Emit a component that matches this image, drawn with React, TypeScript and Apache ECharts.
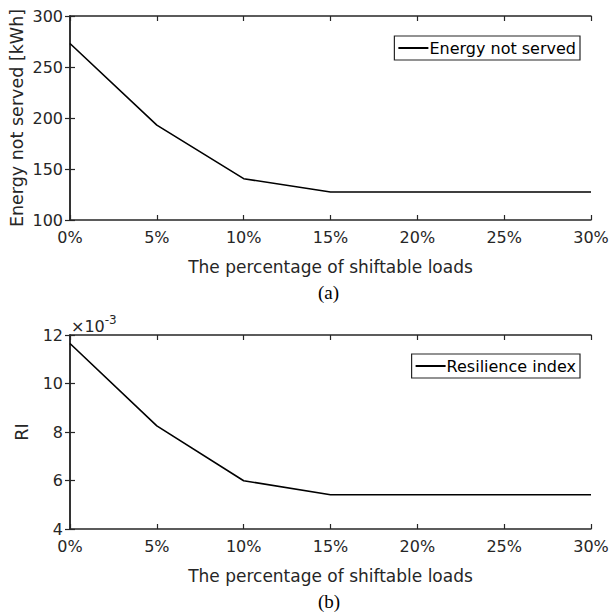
import React, { useEffect, useRef } from "react";
import * as echarts from "echarts";

const shiftPct = [0, 5, 10, 15, 20, 25, 30];
const energyNotServed = [273, 193, 140.5, 127.5, 127.5, 127.5, 127.5];
const resilienceIndex = [11.65, 8.25, 5.99, 5.41, 5.41, 5.41, 5.41];
const xTicks = { min: 0, max: 30, interval: 5 };
const yTopTicks = { min: 100, max: 300, interval: 50 };
const yBotTicks = { min: 4, max: 12, interval: 2 };

const FONT = "'DejaVu Sans', 'Liberation Sans', Arial, sans-serif";
const SERIF = "'Liberation Serif', 'Times New Roman', serif";
const AX = "#262626";

export default function App() {
  const ref = useRef<HTMLDivElement>(null);
  useEffect(() => {
    if (!ref.current) return;
    const chart = echarts.init(ref.current, null, { renderer: "svg" });
    const grids = [
      { left: 70, right: 21, top: 16, height: 204, outerBoundsMode: "none", containLabel: false },
      { left: 70, right: 21, top: 335, height: 194, outerBoundsMode: "none", containLabel: false },
    ];
    const axisLine = { show: true, lineStyle: { color: AX, width: 1.5 } };
    const tick = { show: true, inside: true, length: 5, lineStyle: { color: AX, width: 1.2 } };
    const lbl = { color: AX, fontSize: 16, fontFamily: FONT };
    const xAxes: any[] = [];
    const yAxes: any[] = [];
    [0, 1].forEach((g) => {
      xAxes.push({
        type: "value", gridIndex: g, position: "bottom", ...xTicks,
        name: "The percentage of shiftable loads", nameLocation: "middle", nameGap: 38,
        nameMoveOverlap: false,
        nameTextStyle: { color: AX, fontSize: 17, fontFamily: FONT },
        axisLine, axisTick: tick, splitLine: { show: false },
        axisLabel: { ...lbl, margin: 9, formatter: (v: number) => v + "%" },
      });
      xAxes.push({
        type: "value", gridIndex: g, position: "top", ...xTicks,
        axisLine, axisTick: tick, splitLine: { show: false }, axisLabel: { show: false },
      });
      const yt = g === 0 ? yTopTicks : yBotTicks;
      yAxes.push({
        type: "value", gridIndex: g, position: "left", ...yt,
        name: g === 0 ? "Energy not served [kWh]" : "RI",
        nameLocation: "middle", nameGap: g === 0 ? 44 : 39,
        nameMoveOverlap: false,
        nameTextStyle: { color: AX, fontSize: 17.5, fontFamily: FONT },
        axisLine, axisTick: tick, splitLine: { show: false },
        axisLabel: { ...lbl, margin: 7 },
      });
      yAxes.push({
        type: "value", gridIndex: g, position: "right", ...yt,
        axisLine, axisTick: tick, splitLine: { show: false }, axisLabel: { show: false },
      });
    });
    const legendBase = {
      orient: "vertical",
      right: 32,
      icon: "rect",
      itemWidth: 30,
      itemHeight: 2,
      itemGap: 0,
      padding: [4, 4, 4, 4],
      borderColor: AX,
      borderWidth: 1.2,
      backgroundColor: "#fff",
      textStyle: { color: "#000", fontSize: 16, fontFamily: FONT, padding: [0, 0, 0, -4] },
    };
    chart.setOption({
      animation: false,
      backgroundColor: "#fff",
      grid: grids,
      xAxis: xAxes,
      yAxis: yAxes,
      legend: [
        { ...legendBase, top: 36, data: ["Energy not served"] },
        { ...legendBase, top: 354, data: ["Resilience index"] },
      ],
      series: [
        {
          name: "Energy not served", type: "line", xAxisIndex: 0, yAxisIndex: 0,
          data: shiftPct.map((x, i) => [x, energyNotServed[i]]),
          symbol: "none", lineStyle: { color: "#000", width: 1.6 }, itemStyle: { color: "#000" },
        },
        {
          name: "Resilience index", type: "line", xAxisIndex: 2, yAxisIndex: 2,
          data: shiftPct.map((x, i) => [x, resilienceIndex[i]]),
          symbol: "none", lineStyle: { color: "#000", width: 1.6 }, itemStyle: { color: "#000" },
        },
      ],
      graphic: [
        {
          type: "text", left: 318, top: 283,
          style: { text: "(a)", fontSize: 19, fontFamily: SERIF, fill: "#000" },
        },
        {
          type: "text", left: 318, top: 592,
          style: { text: "(b)", fontSize: 19, fontFamily: SERIF, fill: "#000" },
        },
        {
          type: "text", left: 71, top: 314,
          style: {
            text: "{a|×10}{s|-3}",
            rich: {
              a: { fontSize: 16, fontFamily: FONT, fill: AX, verticalAlign: "bottom" },
              s: { fontSize: 12, fontFamily: FONT, fill: AX, verticalAlign: "top", padding: [0, 0, 8, 0] },
            },
          },
        },
      ],
    });
    return () => chart.dispose();
  }, []);
  return (
    <div
      ref={ref}
      style={{ position: "fixed", left: 0, top: 0, width: 612, height: 612 }}
    />
  );
}
